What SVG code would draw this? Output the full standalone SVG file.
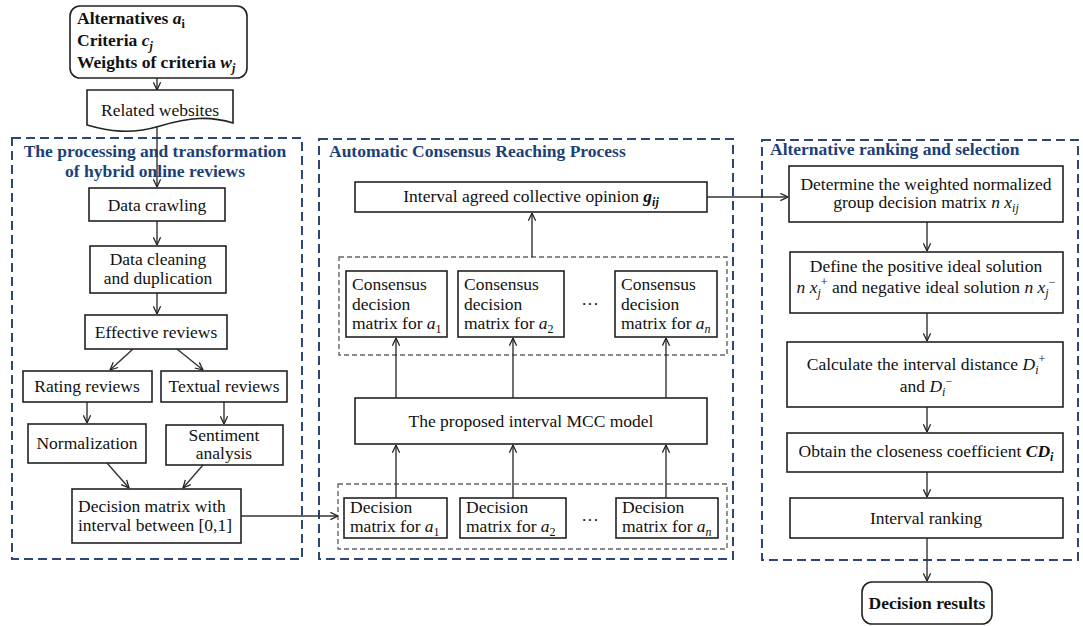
<svg xmlns="http://www.w3.org/2000/svg" width="1083" height="626" viewBox="0 0 1083 626">
<defs>
<marker id="ah" viewBox="0 0 10 10" refX="9.5" refY="5" markerWidth="9" markerHeight="9" markerUnits="userSpaceOnUse" orient="auto">
<path d="M1,1 L9.5,5 L1,9" fill="none" stroke="#222" stroke-width="1.4"/>
</marker>
</defs>
<style>
.t{font-family:"Liberation Serif","Times New Roman",serif;font-size:17.5px;fill:#111}
.b{font-weight:bold}
.c{text-anchor:middle}
.i{font-style:italic}
.s{font-size:12px}
.ttl{font-family:"Liberation Serif","Times New Roman",serif;font-size:17.5px;font-weight:bold;fill:#1d3f78}
.box{fill:#fff;stroke:#222;stroke-width:1.6}
.panel{fill:none;stroke:#2a4778;stroke-width:2;stroke-dasharray:9,5}
.inner{fill:none;stroke:#666;stroke-width:1.4;stroke-dasharray:5,3}
.ln{fill:none;stroke:#333;stroke-width:1.4}
.arr{fill:none;stroke:#333;stroke-width:1.4;marker-end:url(#ah)}
</style>
<rect width="1083" height="626" fill="#fff"/>

<!-- panels -->
<g id="panel-left">
<rect class="panel" x="12" y="138" width="290" height="421"/>
<text class="ttl c" x="155" y="157">The processing and transformation</text>
<text class="ttl c" x="155" y="177">of hybrid online reviews</text>
</g>
<g id="panel-middle">
<rect class="panel" x="319" y="139" width="414" height="420"/>
<text class="ttl" x="329" y="157">Automatic Consensus Reaching Process</text>
<rect class="inner" x="339" y="257" width="388" height="98"/>
<rect class="inner" x="338" y="484" width="389" height="65"/>
</g>
<g id="panel-right">
<rect class="panel" x="762" y="140" width="316" height="420"/>
<text class="ttl" x="770" y="155">Alternative ranking and selection</text>
</g>

<!-- connectors -->
<g id="connectors">
<line class="arr" x1="157" y1="78" x2="157" y2="90"/>
<line class="arr" x1="157" y1="126" x2="157" y2="187"/>
<line class="arr" x1="157" y1="221" x2="157" y2="245"/>
<line class="arr" x1="157" y1="293" x2="157" y2="314"/>
<line class="arr" x1="133" y1="349" x2="110" y2="370"/>
<line class="arr" x1="177" y1="349" x2="203" y2="370"/>
<line class="arr" x1="87" y1="402" x2="87" y2="423"/>
<line class="arr" x1="224" y1="402" x2="224" y2="424"/>
<line class="arr" x1="107" y1="463" x2="129" y2="488"/>
<line class="arr" x1="203" y1="465" x2="183" y2="488"/>
<line class="arr" x1="241" y1="516" x2="338" y2="516"/>
<line class="arr" x1="396" y1="498" x2="396" y2="445"/>
<line class="arr" x1="513" y1="498" x2="513" y2="445"/>
<line class="arr" x1="666" y1="498" x2="666" y2="445"/>
<line class="arr" x1="396" y1="398" x2="396" y2="338"/>
<line class="arr" x1="513" y1="398" x2="513" y2="338"/>
<line class="arr" x1="666" y1="398" x2="666" y2="338"/>
<line class="arr" x1="532" y1="257" x2="532" y2="213"/>
<line class="arr" x1="707" y1="197" x2="788" y2="197"/>
<line class="arr" x1="927" y1="222" x2="927" y2="251"/>
<line class="arr" x1="927" y1="313" x2="927" y2="341"/>
<line class="arr" x1="927" y1="407" x2="927" y2="432"/>
<line class="arr" x1="927" y1="472" x2="927" y2="497"/>
<line class="arr" x1="927" y1="538" x2="927" y2="581"/>
</g>

<!-- left column nodes -->
<g id="n-inputs">
<rect class="box" x="70" y="6" width="177" height="72" rx="10"/>
<text class="t b" x="77" y="24">Alternatives <tspan class="i">a</tspan><tspan class="s" dy="4">i</tspan></text>
<text class="t b" x="77" y="46">Criteria <tspan class="i">c</tspan><tspan class="s i" dy="4">j</tspan></text>
<text class="t b" x="77" y="68">Weights of criteria <tspan class="i">w</tspan><tspan class="s i" dy="4">j</tspan></text>
</g>
<g id="n-websites">
<path class="box" d="M87,90 H233 V123 C210,116 190,117 160,126 C130,135 108,131 87,125 Z"/>
<text class="t c" x="160" y="116">Related websites</text>
</g>
<g id="n-crawl">
<rect class="box" x="89" y="188" width="136" height="33"/>
<text class="t c" x="157" y="211">Data crawling</text>
</g>
<g id="n-clean">
<rect class="box" x="90" y="246" width="136" height="47"/>
<text class="t c" x="158" y="265">Data cleaning</text>
<text class="t c" x="158" y="284">and duplication</text>
</g>
<g id="n-effective">
<rect class="box" x="85" y="315" width="142" height="34"/>
<text class="t c" x="156" y="338">Effective reviews</text>
</g>
<g id="n-rating">
<rect class="box" x="23" y="371" width="129" height="31"/>
<text class="t c" x="87" y="392">Rating reviews</text>
</g>
<g id="n-textual">
<rect class="box" x="161" y="371" width="126" height="31"/>
<text class="t c" x="224" y="392">Textual reviews</text>
</g>
<g id="n-normalization">
<rect class="box" x="28" y="424" width="118" height="39"/>
<text class="t c" x="87" y="449">Normalization</text>
</g>
<g id="n-sentiment">
<rect class="box" x="166" y="425" width="117" height="40"/>
<text class="t c" x="224" y="441">Sentiment</text>
<text class="t c" x="224" y="459">analysis</text>
</g>
<g id="n-dm">
<rect class="box" x="72" y="489" width="169" height="54"/>
<text class="t" x="78" y="512">Decision matrix with</text>
<text class="t" x="78" y="531">interval between [0,1]</text>
</g>

<!-- middle nodes -->
<g id="n-agreed">
<rect class="box" x="355" y="182" width="352" height="30"/>
<text class="t c" x="531" y="202">Interval agreed collective opinion <tspan class="i b">g</tspan><tspan class="s i b" dy="4">ij</tspan></text>
</g>
<g id="n-cdm1">
<rect class="box" x="346" y="271" width="101" height="66"/>
<text class="t" x="352" y="290">Consensus</text>
<text class="t" x="352" y="310">decision</text>
<text class="t" x="352" y="329">matrix for <tspan class="i">a</tspan><tspan class="s" dy="4">1</tspan></text>
</g>
<g id="n-cdm2">
<rect class="box" x="458" y="271" width="106" height="66"/>
<text class="t" x="464" y="290">Consensus</text>
<text class="t" x="464" y="310">decision</text>
<text class="t" x="464" y="329">matrix for <tspan class="i">a</tspan><tspan class="s" dy="4">2</tspan></text>
</g>
<text class="t c" x="590" y="310">···</text>
<g id="n-cdmn">
<rect class="box" x="615" y="271" width="102" height="66"/>
<text class="t" x="621" y="290">Consensus</text>
<text class="t" x="621" y="310">decision</text>
<text class="t" x="621" y="329">matrix for <tspan class="i">a</tspan><tspan class="s i" dy="4">n</tspan></text>
</g>
<g id="n-mcc">
<rect class="box" x="355" y="398" width="352" height="46"/>
<text class="t c" x="531" y="427">The proposed interval MCC model</text>
</g>
<g id="n-dm1">
<rect class="box" x="344" y="498" width="103" height="40"/>
<text class="t" x="350" y="513">Decision</text>
<text class="t" x="350" y="532">matrix for <tspan class="i">a</tspan><tspan class="s" dy="4">1</tspan></text>
</g>
<g id="n-dm2">
<rect class="box" x="460" y="498" width="106" height="40"/>
<text class="t" x="466" y="513">Decision</text>
<text class="t" x="466" y="532">matrix for <tspan class="i">a</tspan><tspan class="s" dy="4">2</tspan></text>
</g>
<text class="t c" x="590" y="526">···</text>
<g id="n-dmn">
<rect class="box" x="616" y="498" width="102" height="40"/>
<text class="t" x="622" y="513">Decision</text>
<text class="t" x="622" y="532">matrix for <tspan class="i">a</tspan><tspan class="s i" dy="4">n</tspan></text>
</g>

<!-- right nodes -->
<g id="n-weighted">
<rect class="box" x="789" y="166" width="274" height="56"/>
<text class="t c" x="926" y="190">Determine the weighted normalized</text>
<text class="t c" x="926" y="208">group decision matrix  <tspan class="i">n x</tspan><tspan class="s i" dy="4">ij</tspan></text>
</g>
<g id="n-ideal">
<rect class="box" x="790" y="252" width="273" height="61"/>
<text class="t c" x="926" y="272">Define the positive ideal solution</text>
<text class="t c" x="926" y="293"><tspan class="i">n x</tspan><tspan class="s i" dy="4">j</tspan><tspan class="s" dy="-11">+</tspan><tspan dy="7"> and negative ideal solution </tspan><tspan class="i">n x</tspan><tspan class="s i" dy="4">j</tspan><tspan class="s" dy="-11">−</tspan></text>
</g>
<g id="n-distance">
<rect class="box" x="787" y="342" width="276" height="65"/>
<text class="t c" x="926" y="370">Calculate the interval distance <tspan class="i">D</tspan><tspan class="s i" dy="4">i</tspan><tspan class="s" dy="-11">+</tspan></text>
<text class="t c" x="926" y="392">and  <tspan class="i">D</tspan><tspan class="s i" dy="4">i</tspan><tspan class="s" dy="-11">−</tspan></text>
</g>
<g id="n-closeness">
<rect class="box" x="787" y="433" width="276" height="39"/>
<text class="t c" x="926" y="457">Obtain the closeness coefficient <tspan class="i b">CD</tspan><tspan class="s i b" dy="4">i</tspan></text>
</g>
<g id="n-ranking">
<rect class="box" x="790" y="498" width="273" height="40"/>
<text class="t c" x="926" y="524">Interval ranking</text>
</g>
<g id="n-results">
<rect class="box" x="862" y="582" width="130" height="42" rx="10"/>
<text class="t b c" x="927" y="609">Decision results</text>
</g>
</svg>
